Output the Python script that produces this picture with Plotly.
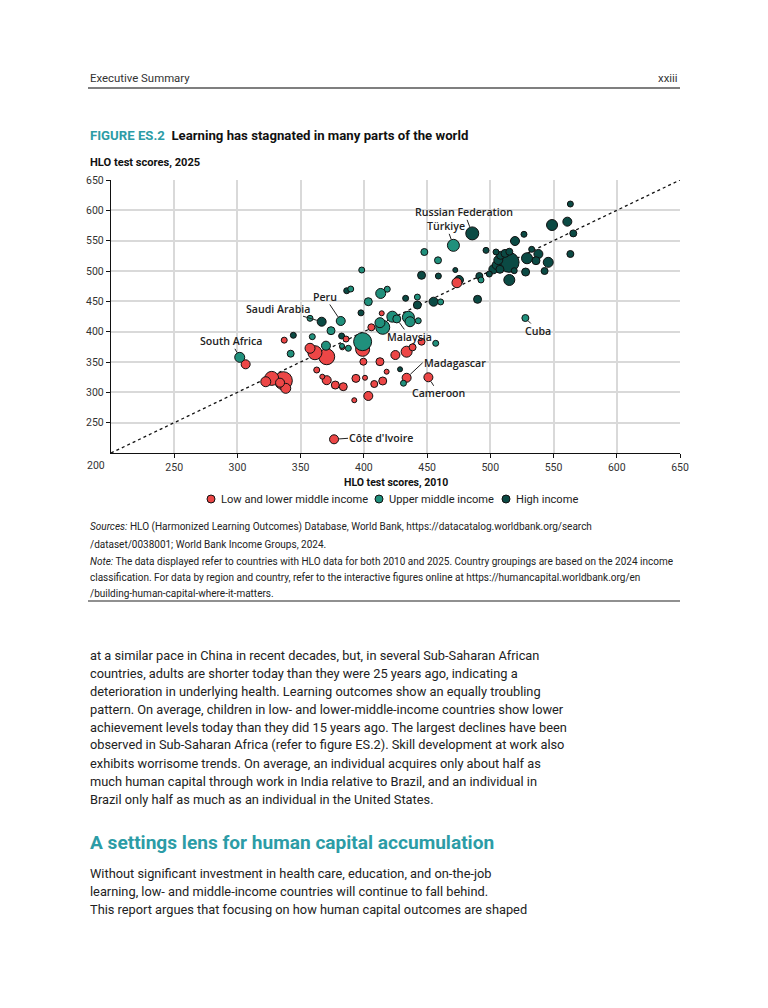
import plotly.graph_objects as go
import numpy as np

# ---------------- data ----------------
# Low and lower middle income: HLO 2010, HLO 2025, relative bubble (population) size
low_x = [376.4, 306.5, 322.4, 327.1, 336.3, 338.2, 333.7, 337.0, 357.4, 361.3, 370.6, 362.7, 367.1,
         370.6, 377.4, 383.7, 385.9, 382.9, 392.4, 393.7, 399.0, 399.6, 403.5, 400.9, 408.2, 412.7,
         414.9, 418.0, 405.9, 414.1, 424.9, 433.8, 438.5, 445.6, 433.8, 451.0, 473.6, 437.0]
low_y = [222.6, 346.2, 317.5, 323.0, 319.2, 306.6, 315.9, 386.0, 372.6, 365.3, 358.7, 336.8, 325.8,
         320.0, 312.0, 309.3, 387.9, 374.2, 287.0, 323.0, 370.9, 350.5, 294.0, 324.0, 313.7, 350.5,
         318.7, 334.0, 407.2, 430.3, 361.5, 367.0, 374.2, 383.5, 324.0, 324.8, 480.7, 419.0]
low_pop = [9, 9, 10, 14, 18, 10, 9, 6, 10, 14, 16, 6, 5,
           9, 8, 8, 6, 5, 5, 8, 14, 7, 9, 5, 7, 8,
           8, 5, 7, 5, 9, 11, 7, 7, 9, 9, 10, 5]
low_country = ["Côte d'Ivoire"] + [""] * 33 + ["Madagascar", "Cameroon", "", ""]

# Upper middle income
up_x = [301.8, 342.1, 357.4, 381.7, 374.0, 359.2, 370.0, 382.7, 387.7, 399.0, 389.6, 398.3, 403.5,
        413.3, 418.5, 412.7, 414.9, 422.5, 426.0, 435.2, 436.5, 443.0, 442.3, 460.7, 456.8, 431.3,
        447.8, 458.6, 470.8, 492.6, 527.7]
up_y = [357.7, 363.7, 422.0, 417.6, 401.6, 391.7, 376.9, 376.4, 372.6, 383.5, 470.3, 501.6, 449.4,
        463.0, 470.0, 414.8, 407.2, 424.7, 421.0, 423.7, 416.4, 418.0, 457.0, 449.0, 380.8, 315.0,
        531.3, 517.6, 542.3, 485.2, 422.5]
up_pop = [10, 7, 6, 9, 8, 6, 9, 5, 6, 18, 6, 6, 8,
          10, 6, 10, 14, 11, 8, 12, 10, 6, 6, 6, 6, 6,
          7, 7, 12, 6, 7]
up_country = ["South Africa", "", "", "Peru"] + [""] * 14 + ["Malaysia"] + [""] * 9 + ["Türkiye", "", "Cuba"]

# High income
hi_x = [386.4, 366.6, 344.2, 382.4, 397.7, 433.0, 442.3, 455.1, 428.6, 445.6, 458.9, 472.3, 475.2,
        485.7, 489.9, 491.3, 496.6, 499.2, 502.4, 505.0, 506.3, 507.6, 508.1, 504.5, 511.6, 515.0,
        514.8, 518.9, 515.0, 519.5, 526.6, 527.9, 529.0, 532.7, 536.1, 538.0, 542.9, 545.8, 548.8,
        560.9, 563.3, 565.6, 563.3]
hi_y = [467.5, 416.4, 394.0, 392.8, 431.0, 455.0, 443.9, 449.4, 338.0, 492.9, 491.7, 501.6, 485.2,
        562.0, 453.3, 491.7, 534.0, 495.0, 502.8, 509.9, 518.0, 502.8, 525.8, 531.3, 529.0, 531.8,
        514.3, 500.5, 485.2, 549.4, 560.5, 498.3, 521.0, 535.7, 517.0, 528.0, 500.0, 514.3, 575.8,
        581.3, 610.4, 562.0, 528.0]
hi_pop = [6, 9, 6, 6, 6, 6, 8, 9, 5, 8, 6, 5, 9,
          13, 8, 7, 6, 6, 9, 9, 9, 8, 8, 6, 8, 7,
          20, 6, 11, 9, 6, 8, 11, 6, 8, 9, 7, 10, 11,
          9, 6, 7, 7]
hi_country = ["", "Saudi Arabia"] + [""] * 11 + ["Russian Federation"] + [""] * 29

groups = ["Low and lower middle income", "Upper middle income", "High income"]
ref_line = [200, 650]
tick_vals = [250, 300, 350, 400, 450, 500, 550, 600, 650]

# ---------------- styling ----------------
RED, TEAL, DARK = "#ec4646", "#20907c", "#0b4a44"
ACCENT = "#2c9ca6"
SANS = "Roboto, sans-serif"
LABF = "Open Sans, Noto Sans, sans-serif"
W, H = 768, 1008
L, R, T, B = 111, 680, 180, 453


def P(px, py):
    return (px - L) / (R - L), (B - py) / (B - T)


fig = go.Figure()

fig.add_trace(go.Scatter(x=ref_line, y=ref_line, mode="lines",
                         line=dict(color="#111", width=1.3, dash="dot"),
                         hoverinfo="skip", showlegend=False))

series = [
    (groups[2], hi_x, hi_y, hi_pop, DARK),
    (groups[0], low_x, low_y, low_pop, RED),
    (groups[1], up_x, up_y, up_pop, TEAL),
]
for name, xs, ys, ps, col in series:
    order = np.argsort(-np.array(ps), kind="stable")
    fig.add_trace(go.Scatter(
        x=np.array(xs)[order], y=np.array(ys)[order], mode="markers", name=name,
        marker=dict(size=np.array(ps)[order], color=col, opacity=1,
                    line=dict(color="#111", width=1)),
        showlegend=False))

anns = []
shapes = []


def text(px, py, s, size, color="#222", bold=False, xanchor="left", family=SANS, weight=None):
    x, y = P(px, py)
    anns.append(dict(xref="paper", yref="paper", x=x, y=y, text=s, showarrow=False,
                     xanchor=xanchor, yanchor="middle",
                     font=dict(family=family, size=size, color=color,
                               weight=weight if weight else ("bold" if bold else "normal"))))


# country labels with leader lines
label_pos = {
    "Russian Federation": (-8, -21, "center"),
    "Türkiye": (-7, -19, "center"),
    "Saudi Arabia": (-44, -13, "center"),
    "Peru": (-16, -24, "center"),
    "South Africa": (-9, -16, "center"),
    "Malaysia": (13, 18, "center"),
    "Madagascar": (16, -15, "left"),
    "Cameroon": (10, 16, "center"),
    "Cuba": (13, 13, "center"),
    "Côte d'Ivoire": (14, -1, "left"),
}
for xs, ys, ps, names in [(low_x, low_y, low_pop, low_country), (up_x, up_y, up_pop, up_country),
                          (hi_x, hi_y, hi_pop, hi_country)]:
    for xv, yv, pv, nm in zip(xs, ys, ps, names):
        if nm:
            ax, ay, xa = label_pos[nm]
            anns.append(dict(x=xv, y=yv, xref="x", yref="y", text=nm, showarrow=True,
                             arrowhead=0, arrowwidth=1, arrowcolor="#222", ax=ax, ay=ay,
                             xanchor=xa, yanchor="middle", standoff=pv / 2 + 0.5, borderpad=0,
                             font=dict(family=LABF, size=10.6, color="#222", weight=600)))

# page header
text(88, 78, "Executive Summary", 11.4, "#333")
text(680, 78, "xxiii", 11.4, "#333", xanchor="right")
x0, y0 = P(88, 88)
x1, _ = P(680, 88)
shapes.append(dict(type="line", xref="paper", yref="paper", x0=x0, x1=x1, y0=y0, y1=y0,
                   line=dict(color="#555", width=1.5)))

# figure title
text(88, 136, "<span style='color:%s'>FIGURE ES.2</span>  Learning has stagnated in many parts of the world" % ACCENT,
     13.2, "#111", bold=True)
text(88, 162, "HLO test scores, 2025", 11.1, "#111", bold=True)
text(96, 465, "200", 10.5, "#333", xanchor="center")
text(395.5, 482, "HLO test scores, 2010", 10.5, "#111", bold=True, xanchor="center")

# legend
leg = [(211, RED, groups[0]), (379, TEAL, groups[1]), (506, DARK, groups[2])]
for cx, col, nm in leg:
    rx, ry = 4 / (R - L), 4 / (B - T)
    xc, yc = P(cx, 499)
    shapes.append(dict(type="circle", xref="paper", yref="paper", x0=xc - rx, x1=xc + rx,
                       y0=yc - ry, y1=yc + ry, fillcolor=col, line=dict(color="#111", width=1)))
    text(cx + 8, 499, nm, 11.1, "#222")

# sources / note
SRC = 10
text(88, 527, "<i>Sources:</i> HLO (Harmonized Learning Outcomes) Database, World Bank, https://datacatalog.worldbank.org/search", SRC, "#222")
text(88, 544, "/dataset/0038001; World Bank Income Groups, 2024.", SRC, "#222")
text(88, 561, "<i>Note:</i> The data displayed refer to countries with HLO data for both 2010 and 2025. Country groupings are based on the 2024 income", SRC, "#222")
text(88, 577, "classification. For data by region and country, refer to the interactive figures online at https://humancapital.worldbank.org/en", SRC, "#222")
text(88, 593, "/building-human-capital-where-it-matters.", SRC, "#222")
x0, y0 = P(88, 601)
shapes.append(dict(type="line", xref="paper", yref="paper", x0=x0, x1=x1, y0=y0, y1=y0,
                   line=dict(color="#222", width=1.2)))

body1 = [
    "at a similar pace in China in recent decades, but, in several Sub-Saharan African",
    "countries, adults are shorter today than they were 25 years ago, indicating a",
    "deterioration in underlying health. Learning outcomes show an equally troubling",
    "pattern. On average, children in low- and lower-middle-income countries show lower",
    "achievement levels today than they did 15 years ago. The largest declines have been",
    "observed in Sub-Saharan Africa (refer to figure ES.2). Skill development at work also",
    "exhibits worrisome trends. On average, an individual acquires only about half as",
    "much human capital through work in India relative to Brazil, and an individual in",
    "Brazil only half as much as an individual in the United States.",
]
BODY = 12.8
for i, s in enumerate(body1):
    text(88, 655 + 18 * i, s, BODY, "#222")
text(88, 842, "A settings lens for human capital accumulation", 19.1, ACCENT, bold=True)
body2 = [
    "Without significant investment in health care, education, and on-the-job",
    "learning, low- and middle-income countries will continue to fall behind.",
    "This report argues that focusing on how human capital outcomes are shaped",
]
for i, s in enumerate(body2):
    text(88, 873 + 18 * i, s, BODY, "#222")

axis_common = dict(range=[200, 650], tickvals=tick_vals, showgrid=True, gridcolor="#d9d9d9",
                   gridwidth=1.5, showline=True, linecolor="#111", linewidth=1.3,
                   ticks="outside", ticklen=4, tickcolor="#111", zeroline=False,
                   tickfont=dict(family=SANS, size=10.5, color="#333"))

fig.update_layout(
    width=W, height=H, margin=dict(l=L, r=W - R, t=T, b=H - B, pad=0),
    paper_bgcolor="white", plot_bgcolor="white", showlegend=False,
    xaxis=dict(**axis_common), yaxis=dict(**axis_common),
    annotations=anns, shapes=shapes,
)

fig.write_html("out.html", config={"displayModeBar": False},
               post_script="document.body.style.margin='0';")
